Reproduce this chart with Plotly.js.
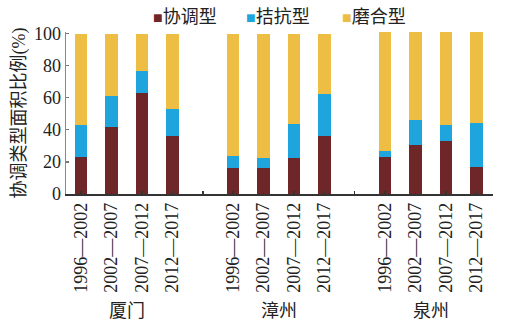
<!DOCTYPE html>
<html><head><meta charset="utf-8">
<script src="https://cdn.plot.ly/plotly-3.0.1.min.js"></script>
<style>body{margin:0;background:#fff}#c{width:525px;height:332px}</style>
</head><body><div id="c"></div>
<script>
const cities = ["厦门", "漳州", "泉州"];
const periods = ["1996—2002", "2002—2007", "2007—2012", "2012—2017"];
const seriesNames = ["协调型", "拮抗型", "磨合型"];
const xieTiao = [23, 42, 63, 36.4, 16.5, 16.3, 22.5, 36.2, 23.2, 30.8, 33.1, 16.8];
const jieKang = [20, 19, 14, 16.8, 7.5, 6.1, 21.4, 26.3, 3.7, 15.3, 9.9, 27.3];
const moHe = [57, 39, 23, 46.8, 76, 77.6, 56.1, 37.5, 74.1, 54.9, 58, 56.9];
const yTicks = [0, 20, 40, 60, 80, 100];

const colors = ["#6E2629", "#1FA5DE", "#EEBD44"];
const serif = '"Liberation Serif", "Noto Sans CJK SC", serif';

// bar positions: 4 periods per city with one empty slot between cities
const xs = [];
cities.forEach((c, g) => periods.forEach((p, i) => xs.push(g * 5 + i)));
const tickvals = [], ticktext = [];
for (let k = 0; k < 14; k++) {
  tickvals.push(k);
  const p = k % 5;
  ticktext.push(p < 4 ? periods[p] : "");
}

const values = [xieTiao, jieKang, moHe];
const traces = values.map((v, s) => ({
  type: "bar", x: xs, y: v, name: seriesNames[s],
  marker: {color: colors[s], line: {width: 0}},
  width: 0.41, showlegend: false, hoverinfo: "none"
}));

const legendX = [151, 244, 340];
const annotations = [];
seriesNames.forEach((n, s) => {
  annotations.push({
    xref: "paper", yref: "paper", x: (legendX[s] - 66) / 427, y: 1.093,
    xanchor: "left", yanchor: "middle", showarrow: false,
    text: '<span style="color:' + colors[s] + ';font-size:16px">■</span>' + n,
    font: {family: serif, size: 18, color: "#222"}
  });
});
cities.forEach((c, g) => {
  annotations.push({
    xref: "x", yref: "paper", x: g * 5 + 1.5, y: -0.72,
    xanchor: "center", yanchor: "middle", showarrow: false,
    text: c, font: {family: serif, size: 18, color: "#222"}
  });
});

const layout = {
  width: 525, height: 332,
  margin: {l: 66, r: 32, t: 32, b: 138},
  barmode: "stack",
  paper_bgcolor: "#fff", plot_bgcolor: "#fff",
  font: {family: serif, size: 18, color: "#222"},
  xaxis: {
    range: [-0.5, 13.55], tickvals: tickvals, ticktext: ticktext,
    tickangle: -90, ticks: "inside", ticklen: 3, tickwidth: 1.5, tickcolor: "#333",
    showline: true, linecolor: "#333", linewidth: 1.5, showgrid: false, zeroline: false,
    tickfont: {family: serif, size: 18, color: "#222"}, automargin: false
  },
  yaxis: {
    range: [0, 101], tickvals: yTicks, ticks: "inside", ticklen: 3, tickwidth: 1.2,
    tickcolor: "#777", showline: true, linecolor: "#888", linewidth: 1.5,
    showgrid: false, zeroline: false, automargin: false,
    tickfont: {family: serif, size: 18, color: "#222"},
    title: {text: "协调类型面积比例(%)", font: {family: serif, size: 18, color: "#222"}, standoff: 3}
  },
  annotations: annotations
};
Plotly.newPlot("c", traces, layout, {staticPlot: true, displayModeBar: false});
</script>
</body></html>
